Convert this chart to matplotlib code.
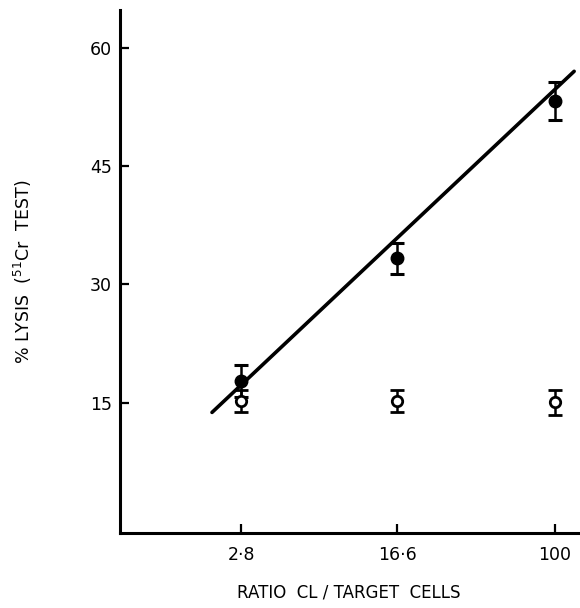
import matplotlib
matplotlib.use("Agg")
import matplotlib.pyplot as plt

# Data
ratios = [2.8, 16.6, 100]
tick_labels = ["2·8", "16·6", "100"]
lysis_filled = [17.8, 33.3, 53.2]
err_filled = [2.0, 2.0, 2.4]
lysis_open = [15.3, 15.2, 15.1]
err_open = [1.4, 1.4, 1.6]
fit_x = [2.0, 125.0]
fit_y = [13.8, 57.0]
y_ticks = [15, 30, 45, 60]

plt.rcParams['font.family'] = ['DejaVu Sans']

fig = plt.figure(figsize=(5.8, 6.08), dpi=100)
ax = fig.add_axes([0.207, 0.123, 0.79, 0.861])

ax.plot(fit_x, fit_y, color='black', lw=2.6, solid_capstyle='round', zorder=2)

ax.errorbar(ratios, lysis_filled, yerr=err_filled, fmt='o', color='black',
            ms=9, elinewidth=1.8, capsize=5, capthick=2.2, zorder=3)
ax.errorbar(ratios, lysis_open, yerr=err_open, fmt='o', color='black',
            mfc='white', mec='black', mew=2.0, ms=7.5, elinewidth=1.8,
            capsize=5, capthick=2.2, zorder=3)

ax.set_xscale('log')
ax.set_xlim(0.70, 131)
ax.set_ylim(-1.5, 64.8)

ax.set_xticks(ratios)
ax.set_xticklabels(tick_labels)
ax.minorticks_off()
ax.set_yticks(y_ticks)
ax.set_yticklabels([str(v) for v in y_ticks])

for s in ['top', 'right']:
    ax.spines[s].set_visible(False)
for s in ['left', 'bottom']:
    ax.spines[s].set_linewidth(2.2)

ax.tick_params(axis='both', direction='in', length=6.5, width=1.6,
               labelsize=12.5)
ax.tick_params(axis='x', pad=9)
ax.tick_params(axis='y', pad=6)

ax.set_xlabel('RATIO  CL / TARGET  CELLS', fontsize=12, labelpad=14)
ax.set_ylabel(r'% LYSIS  ($^{51}$Cr  TEST)', fontsize=12.5, labelpad=40)

fig.savefig('out.png', dpi=100)
